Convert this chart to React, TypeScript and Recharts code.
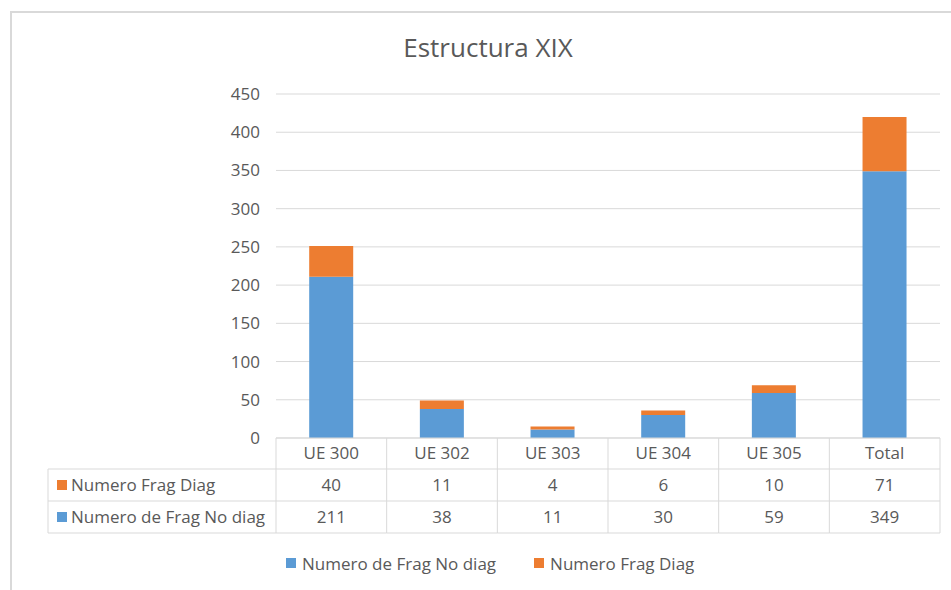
import { BarChart, Bar, XAxis, YAxis, CartesianGrid, Legend } from 'recharts';

const categories = ['UE 300', 'UE 302', 'UE 303', 'UE 304', 'UE 305', 'Total'];
const fragNoDiag = [211, 38, 11, 30, 59, 349];
const fragDiag = [40, 11, 4, 6, 10, 71];
const yTicks = [0, 50, 100, 150, 200, 250, 300, 350, 400, 450];

const NO_DIAG = 'Numero de Frag No diag';
const DIAG = 'Numero Frag Diag';

const BLUE = '#5B9BD5';
const ORANGE = '#ED7D31';
const GRID = '#D9D9D9';
const TEXT = '#595959';
const FONT = '"Open Sans", "Noto Sans", sans-serif';

const W = 951;
const H = 590;
const PLOT_LEFT = 276;
const PLOT_RIGHT = 940;
const PLOT_TOP = 94;
const PLOT_BOTTOM = 438;
const Y_AXIS_W = 60;
const X_AXIS_H = 95;
const LEGEND_H = 22;

// data table rows under the axis
const ROW_H = 32;
const TABLE_LEFT = 48;
const ROW1 = PLOT_BOTTOM + 31;
const ROW2 = ROW1 + ROW_H;
const ROW3 = ROW2 + ROW_H;

const data = categories.map((name, i) => ({
  name,
  noDiag: fragNoDiag[i],
  diag: fragDiag[i],
}));

const bandWidth = (PLOT_RIGHT - PLOT_LEFT) / categories.length;

function TableTick(props: any) {
  const { x, index, payload } = props;
  const left = x - bandWidth / 2;
  const right = x + bandWidth / 2;
  const textProps = { fill: TEXT, fontSize: 17, fontFamily: FONT, textAnchor: 'middle' as const, dominantBaseline: 'central' as const };

  return (
    <g>
      <line x1={left} x2={left} y1={PLOT_BOTTOM} y2={ROW3} stroke={GRID} />
      {index === categories.length - 1 && <line x1={right} x2={right} y1={PLOT_BOTTOM} y2={ROW3} stroke={GRID} />}
      {[ROW1, ROW2, ROW3].map((yy) => (
        <line key={yy} x1={left} x2={right} y1={yy} y2={yy} stroke={GRID} />
      ))}
      <text x={x} y={(PLOT_BOTTOM + ROW1) / 2 - 1} {...textProps}>{payload.value}</text>
      <text x={x} y={(ROW1 + ROW2) / 2 - 1} {...textProps}>{fragDiag[index]}</text>
      <text x={x} y={(ROW2 + ROW3) / 2 - 1} {...textProps}>{fragNoDiag[index]}</text>
      {index === 0 && (
        <g>
          <line x1={TABLE_LEFT} x2={TABLE_LEFT} y1={ROW1} y2={ROW3} stroke={GRID} />
          {[ROW1, ROW2, ROW3].map((yy) => (
            <line key={yy} x1={TABLE_LEFT} x2={left} y1={yy} y2={yy} stroke={GRID} />
          ))}
          <rect x={TABLE_LEFT + 9} y={(ROW1 + ROW2) / 2 - 5} width={10} height={10} fill={ORANGE} />
          <text x={TABLE_LEFT + 23} y={(ROW1 + ROW2) / 2 - 1} {...textProps} textAnchor="start">{DIAG}</text>
          <rect x={TABLE_LEFT + 9} y={(ROW2 + ROW3) / 2 - 5} width={10} height={10} fill={BLUE} />
          <text x={TABLE_LEFT + 23} y={(ROW2 + ROW3) / 2 - 1} {...textProps} textAnchor="start">{NO_DIAG}</text>
        </g>
      )}
    </g>
  );
}

function LegendContent() {
  const items = [
    { label: NO_DIAG, color: BLUE },
    { label: DIAG, color: ORANGE },
  ];
  return (
    <div style={{ display: 'flex', justifyContent: 'flex-start', paddingLeft: 286, height: LEGEND_H, alignItems: 'center', fontFamily: FONT, fontSize: 17, color: TEXT }}>
      {items.map((it) => (
        <div key={it.label} style={{ display: 'flex', alignItems: 'center', marginRight: 38 }}>
          <span style={{ width: 10, height: 10, background: it.color, display: 'inline-block', marginRight: 6 }} />
          <span>{it.label}</span>
        </div>
      ))}
    </div>
  );
}

export default function App() {
  return (
    <div style={{ position: 'absolute', left: 0, top: 0, width: W, height: H, overflow: 'hidden', background: '#fff' }}>
      <div style={{ position: 'absolute', left: 10, top: 11, width: 980, height: 620, border: `2px solid ${GRID}`, boxSizing: 'border-box' }} />
      <div style={{ position: 'absolute', left: 0, width: 976, top: 29, textAlign: 'center', fontFamily: FONT, fontSize: 26, color: TEXT }}>
        Estructura XIX
      </div>
      <BarChart
        width={W}
        height={H}
        data={data}
        barCategoryGap="30%"
        margin={{ top: PLOT_TOP, right: W - PLOT_RIGHT, left: PLOT_LEFT - Y_AXIS_W, bottom: H - PLOT_BOTTOM - X_AXIS_H - LEGEND_H }}
      >
        <CartesianGrid vertical={false} stroke={GRID} />
        <YAxis
          width={Y_AXIS_W}
          domain={[0, 450]}
          ticks={yTicks}
          axisLine={false}
          tickLine={false}
          tickMargin={10}
          tick={{ fill: TEXT, fontSize: 17, fontFamily: FONT }}
        />
        <XAxis
          dataKey="name"
          height={X_AXIS_H}
          axisLine={{ stroke: GRID }}
          tickLine={false}
          interval={0}
          tick={<TableTick />}
        />
        <Legend verticalAlign="bottom" content={<LegendContent />} wrapperStyle={{ top: 552, bottom: 'auto', left: 0, width: W }} />
        <Bar dataKey="noDiag" name={NO_DIAG} stackId="a" fill={BLUE} isAnimationActive={false} />
        <Bar dataKey="diag" name={DIAG} stackId="a" fill={ORANGE} isAnimationActive={false} />
      </BarChart>
    </div>
  );
}
